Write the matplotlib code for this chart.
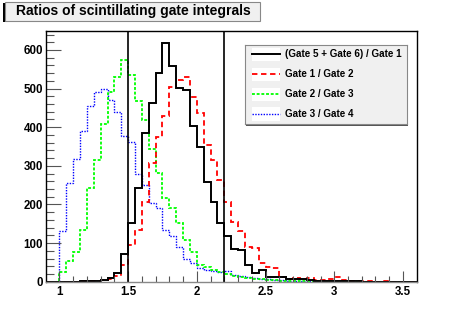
import numpy as np
import matplotlib.pyplot as plt
from matplotlib.patches import Rectangle

# bin edges (0.05 wide) from 0.9 to 3.6
edges = np.round(np.arange(0.9, 3.6001, 0.05), 3)

# (Gate 5 + Gate 6) / Gate 1
h_56_1 = [0, 0, 0, 0, 0, 1, 2, 2, 4, 10, 22, 72,
          153, 242, 384, 462, 541, 619, 559, 501, 496, 402,
          350, 259, 207, 153, 118, 85, 82, 43, 22, 29,
          13, 13, 13, 8, 7, 6, 4, 3, 3, 2,
          2, 1, 1, 1, 0, 0, 0, 0, 0, 0, 0, 0]
# Gate 1 / Gate 2
h_1_2 = [0, 0, 0, 0, 0, 1, 2, 3, 5, 8, 16, 43,
         95, 134, 207, 307, 374, 429, 504, 521, 531, 479,
         436, 355, 315, 263, 207, 155, 130, 91, 86, 48,
         39, 35, 13, 8, 10, 6, 10, 4, 5, 6,
         11, 4, 2, 2, 1, 1, 0, 1, 0, 0, 0, 0]
# Gate 2 / Gate 3
h_2_3 = [0, 0, 26, 54, 78, 134, 242, 315, 408, 490, 531, 574,
         535, 469, 419, 343, 281, 216, 190, 151, 108, 78,
         42, 38, 30, 25, 20, 15, 12, 10, 8, 6,
         5, 4, 3, 2, 2, 1, 1, 1, 0, 1,
         0, 0, 0, 0, 0, 0, 0, 0, 0, 0, 0, 0]
# Gate 3 / Gate 4
h_3_4 = [0, 0, 132, 255, 317, 389, 455, 490, 500, 471, 440, 377,
         363, 280, 250, 203, 190, 134, 119, 91, 60, 48,
         36, 30, 28, 25, 28, 18, 15, 12, 10, 8,
         6, 5, 4, 3, 3, 2, 2, 1, 1, 1,
         1, 0, 0, 0, 0, 0, 0, 0, 0, 0, 0, 0]

labels = ["(Gate 5 + Gate 6) / Gate 1", "Gate 1 / Gate 2",
          "Gate 2 / Gate 3", "Gate 3 / Gate 4"]
cut_lo, cut_hi = 1.5, 2.2

plt.rcParams['font.family'] = ['Liberation Sans', 'DejaVu Sans']

fig = plt.figure(figsize=(4.63, 3.14), dpi=100)
ax = fig.add_axes([0.0987, 0.1029, 0.8013, 0.7994])

styles = [
    dict(color='black', lw=1.4, ls='-'),
    dict(color='#ff0000', lw=1.3, ls=(0, (3, 2))),
    dict(color='#00ff00', lw=1.3, ls=(0, (1.6, 1))),
    dict(color='#0000ff', lw=1.0, ls=(0, (1, 1))),
]
hists = [h_56_1, h_1_2, h_2_3, h_3_4]

# draw back to front like ROOT (blue, green, red, black on top)
for h, st in list(zip(hists, styles))[::-1]:
    ax.stairs(h, edges, baseline=0, fill=False, **st)

ax.axvline(cut_lo, color='black', lw=1.2)
ax.axvline(cut_hi, color='black', lw=1.2)

ax.set_xlim(0.9, 3.6)
ax.set_ylim(0, 650)
ax.set_xticks([1, 1.5, 2, 2.5, 3, 3.5])
ax.set_xticklabels(['1', '1.5', '2', '2.5', '3', '3.5'])
ax.set_xticks(np.arange(1.0, 3.6, 0.1), minor=True)
ax.set_yticks(np.arange(0, 601, 100))
ax.set_yticks(np.arange(0, 641, 20), minor=True)
ax.tick_params(axis='both', which='both', direction='in', colors='#555555',
               labelcolor='black', labelsize=8.3)
ax.tick_params(axis='x', which='major', length=8, width=0.8, pad=3)
ax.tick_params(axis='x', which='minor', length=4, width=0.8)
ax.tick_params(axis='y', which='major', length=11, width=0.8, pad=2)
ax.tick_params(axis='y', which='minor', length=6, width=0.8)
for lab in ax.get_xticklabels() + ax.get_yticklabels():
    lab.set_fontweight('bold')
for sp in ax.spines.values():
    sp.set_color('black')
    sp.set_linewidth(1.0)
ax.spines['bottom'].set_color('#888888')

# title box with shadow (bottom-left)
W, H = 463.0, 314.0
fig.patches.append(Rectangle((3 / W, 1 - 22 / H), 255 / W, 19 / H,
                             transform=fig.transFigure, facecolor='black',
                             edgecolor='none', zorder=1))
fig.patches.append(Rectangle((5 / W, 1 - 20.5 / H), 255 / W, 19 / H,
                             transform=fig.transFigure, facecolor='#f0f0f0',
                             edgecolor='#888888', lw=0.8, zorder=2))
fig.text(133 / W, 1 - 11.5 / H, "Ratios of scintillating gate integrals",
         ha='center', va='center', fontsize=10, fontweight='bold', zorder=3)

# legend
lx0, ly0, lw_, lh_ = 245 / W, 1 - 124.3 / H, 161.7 / W, 79.3 / H
fig.patches.append(Rectangle((lx0 + 1.5 / W, ly0 - 1.5 / H), lw_, lh_,
                             transform=fig.transFigure, facecolor='#555555',
                             edgecolor='none', zorder=4))
lax = fig.add_axes([lx0, ly0, lw_, lh_], zorder=5)
lax.set_facecolor('#f0f0f0')
lax.set_xlim(0, 1)
lax.set_ylim(0, 1)
lax.set_xticks([])
lax.set_yticks([])
for sp in lax.spines.values():
    sp.set_color('#888888')
    sp.set_linewidth(0.8)
ys = [0.883, 0.631, 0.379, 0.127]
for y, lab, st in zip(ys, labels, styles):
    lax.add_patch(Rectangle((0.041, y - 0.085), 0.175, 0.17,
                            facecolor='white', edgecolor='none'))
    lax.plot([0.041, 0.216], [y, y], **st)
    lax.text(0.247, y, lab, ha='left', va='center', fontsize=7.1,
             fontweight='bold')

fig.savefig('out.png', dpi=100)
